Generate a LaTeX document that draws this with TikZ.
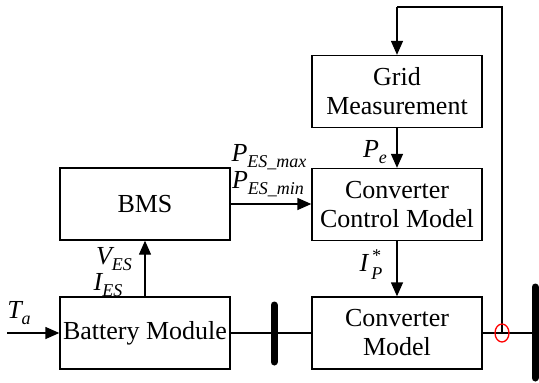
\documentclass[tikz,border=0pt]{standalone}
\usepackage{fontspec}
\setmainfont{Liberation Serif}
\usetikzlibrary{arrows.meta}
\newcommand{\subs}[1]{\raisebox{-6pt}{\fontsize{18}{18}\selectfont #1}}
\begin{document}
\begin{tikzpicture}[x=1pt,y=-1pt,
  box/.style={draw,line width=1.3pt,minimum width=170pt,minimum height=72pt,inner sep=0pt,align=center,font=\fontsize{26}{29}\selectfont},
  lbl/.style={inner sep=0pt,font=\fontsize{26}{29}\selectfont\itshape},
  conn/.style={line width=1.3pt},
  arr/.style={conn,-{Triangle[length=14pt,width=12pt]}},
  bar/.style={line width=7pt,line cap=round}]
\useasboundingbox (0,0) rectangle (539,383);
\node[box] (gm) at (397,91.5) {Grid\\Measurement};
\node[box] (ccm) at (397,204.5) {Converter\\Control Model};
\node[box] (cm) at (397,333) {Converter\\Model};
\node[box] (bms) at (145,204) {BMS};
\node[box] (bm) at (145,333) {Battery Module};
\coordinate (ta) at (7,333);
\coordinate (bt) at (274,305);
\coordinate (bb) at (274,362);
\coordinate (rt) at (535,287);
\coordinate (rb) at (535,378);
\coordinate (fb) at (502,333);
\coordinate (top) at (502,7);
\coordinate (topl) at (397,7);
\draw[conn] (bm.east) -- (cm.west);
\draw[conn] (cm.east) -- (rt |- cm.east);
\draw[bar] (bt) -- (bb);
\draw[bar] (rt) -- (rb);
\draw[arr] (ta) -- (bm.west);
\draw[arr] (bm.north) -- (bms.south);
\draw[arr] (bms.east) -- (bms.east -| ccm.west);
\draw[arr] (gm.south) -- (ccm.north);
\draw[arr] (ccm.south) -- (cm.north);
\draw[conn] (fb) -- (top) -- (topl);
\draw[arr] (topl) -- (gm.north);
\draw[red,line width=1.3pt] (fb) ellipse [x radius=7pt,y radius=9pt];
\node[lbl] (lta) at (19,313) {T\subs{a}};
\node[lbl] (lves) at (114,259) {V\subs{ES}};
\node[lbl] (lies) at (108,285) {I\subs{ES}};
\node[lbl] (lpmax) at (269,157) {P\subs{ES\_max}};
\node[lbl] (lpmin) at (268,184) {P\subs{ES\_min}};
\node[lbl] (lpe) at (375,152) {P\subs{e}};
\node[lbl] (lip) at (371,265) {I\hspace{3pt}\rlap{\raisebox{10pt}{\fontsize{18}{18}\selectfont *}}\raisebox{-8pt}{\fontsize{18}{18}\selectfont P}};
\end{tikzpicture}
\end{document}
